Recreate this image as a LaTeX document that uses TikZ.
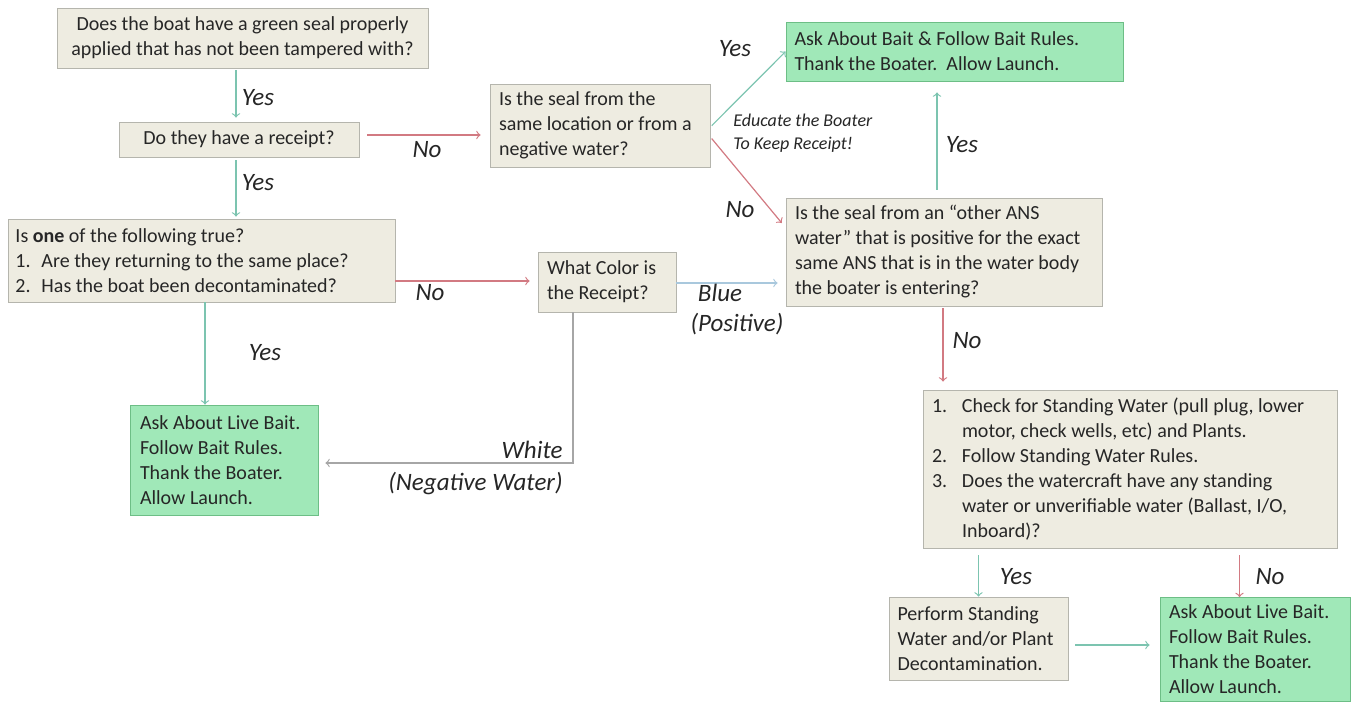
\documentclass[tikz,border=0pt]{standalone}
\usepackage{fontspec}
\setmainfont{Carlito}
\usepackage{xcolor}
\usetikzlibrary{arrows, positioning, shapes}

\definecolor{boxfill}{HTML}{EEECE1}
\definecolor{boxline}{HTML}{B5B5AD}
\definecolor{okfill}{HTML}{A0E8B8}
\definecolor{okline}{HTML}{6DBE86}
\definecolor{yescol}{HTML}{7CC4B0}
\definecolor{nocol}{HTML}{D27A82}
\definecolor{bluecol}{HTML}{A9C8DD}
\definecolor{txt}{HTML}{262626}

\tikzset{
  box/.style={draw=boxline, fill=boxfill, inner sep=0pt, text=txt,
    font=\fontsize{10}{12.5}\selectfont},
  okbox/.style={box, draw=okline, fill=okfill},
  yesarrow/.style={->, draw=yescol, line width=0.6pt},
  noarrow/.style={->, draw=nocol, line width=0.6pt},
  answer/.style={font=\fontsize{12.5}{15}\selectfont\itshape, text=txt, inner sep=0pt},
}

\begin{document}
\begin{tikzpicture}[x=0.5pt, y=-0.5pt, >=to]
    \useasboundingbox (0,0) rectangle (1351,702);

    % Noduri
    \node[box, minimum width=185.5pt, minimum height=30pt, align=center] (seal) at (242.5,38)
        {Does the boat have a green seal properly\\applied that has not been tampered with?};
    \node[box, minimum width=120pt, minimum height=17.5pt] (receipt) at (239,139.5) {Do they have a receipt?};
    \node[box, minimum width=193.5pt, minimum height=41.5pt] (one) at (201.5,260.5)
        {\parbox{186pt}{Is \textbf{one} of the following true?\\
         \makebox[13pt][l]{1.}Are they returning to the same place?\\
         \makebox[13pt][l]{2.}Has the boat been decontaminated?}};
    \node[okbox, minimum width=94pt, minimum height=55pt] (livebait) at (224,460)
        {\parbox{84pt}{Ask About Live Bait.\\Follow Bait Rules.\\Thank the Boater.\\Allow Launch.}};
    \node[box, minimum width=110pt, minimum height=41.5pt] (same) at (600,125.5)
        {\parbox{101pt}{Is the seal from the\\same location or from a\\negative water?}};
    \node[box, minimum width=69pt, minimum height=30pt] (color) at (607,282)
        {\parbox{60pt}{What Color is\\the Receipt?}};
    \node[okbox, minimum width=168.5pt, minimum height=29.5pt] (askbait) at (954.5,51.5)
        {\parbox{160pt}{Ask About Bait \& Follow Bait Rules.\\Thank the Boater.\ \ Allow Launch.}};
    \node[box, minimum width=158pt, minimum height=54pt] (ans) at (944,252)
        {\parbox{149pt}{Is the seal from an ``other ANS\\water'' that is positive for the exact\\same ANS that is in the water body\\the boater is entering?}};
    \node[box, minimum width=207pt, minimum height=79pt] (standing) at (1130,469)
        {\parbox{198pt}{\makebox[15pt][l]{1.}Check for Standing Water (pull plug, lower\\
         \hspace*{15pt}motor, check wells, etc) and Plants.\\
         \makebox[15pt][l]{2.}Follow Standing Water Rules.\\
         \makebox[15pt][l]{3.}Does the watercraft have any standing\\
         \hspace*{15pt}water or unverifiable water (Ballast, I/O,\\
         \hspace*{15pt}Inboard)?}};
    \node[box, minimum width=89.5pt, minimum height=41.5pt] (decon) at (978.5,638.5)
        {\parbox{81pt}{Perform Standing\\Water and/or Plant\\Decontamination.}};
    \node[okbox, minimum width=95pt, minimum height=52pt] (launch) at (1255,649.5)
        {\parbox{86pt}{Ask About Live Bait.\\Follow Bait Rules.\\Thank the Boater.\\Allow Launch.}};

    % Muchii
    \draw[yesarrow, shorten <=1pt, shorten >=2pt] ([xshift=-3.25pt]seal.south) -- ([xshift=-3.25pt]seal.south |- receipt.north);
    \draw[yesarrow, shorten <=1.5pt, shorten >=1pt] ([xshift=-1.5pt]receipt.south) -- ([xshift=-1.5pt]receipt.south |- one.north);
    \draw[noarrow, shorten <=4pt, shorten >=4.5pt] ([yshift=2.25pt]receipt.east) -- ([yshift=2.25pt]receipt.east -| same.west);
    \draw[yesarrow] ([xshift=1.75pt]one.south) -- ([xshift=1.75pt]one.south |- livebait.north);
    \draw[noarrow, shorten >=4pt] ([yshift=-10.25pt]one.east) -- ([yshift=-10.25pt]one.east -| color.west);
    \draw[->, draw=gray!70, line width=0.6pt, shorten >=3.5pt] ([xshift=-17pt]color.south) |- ([yshift=-1.5pt]livebait.east);
    \draw[->, draw=bluecol, line width=0.6pt, shorten >=4pt] ([yshift=-0.5pt]color.east) -- ([yshift=-0.5pt]color.east -| ans.west);
    \draw[yesarrow, shorten <=1pt] ([yshift=-0.75pt]same.east) -- (askbait.west);
    \draw[noarrow, shorten <=1pt, shorten >=3pt] ([yshift=-5.75pt]same.east) -- ([yshift=-15pt]ans.north west);
    \draw[yesarrow, shorten <=4pt, shorten >=5.5pt] ([xshift=-3.5pt]ans.north) -- ([xshift=-3.5pt]ans.north |- askbait.south);
    \draw[noarrow, shorten <=1pt, shorten >=4pt] ([xshift=-0.5pt]ans.south) -- ([xshift=-0.5pt]ans.south |- standing.north);
    \draw[yesarrow, shorten <=3.5pt] (decon.north |- standing.south) -- (decon.north);
    \draw[noarrow, shorten <=3.5pt] ([xshift=-7.75pt]launch.north |- standing.south) -- ([xshift=-7.75pt]launch.north);
    \draw[yesarrow, shorten <=3.5pt, shorten >=5pt] ([yshift=-3.25pt]decon.east) -- ([yshift=-3.25pt]decon.east -| launch.west);

    % Etichete
    \node[answer] (y1) at (258,98) {Yes};
    \node[answer] (y2) at (258,183) {Yes};
    \node[answer] (n1) at (427,150) {No};
    \node[answer] (y3) at (265,353) {Yes};
    \node[answer] (n2) at (430,293) {No};
    \node[answer, anchor=east] (white) at (563,450) {White};
    \node[answer, anchor=east] (neg) at (563,484) {(Negative Water)};
    \node[answer] (blue) at (720,293) {Blue};
    \node[answer] (pos) at (737,324) {(Positive)};
    \node[answer] (y4) at (735,49) {Yes};
    \node[answer] (n3) at (740,210) {No};
    \node[font=\fontsize{9}{11.5}\selectfont\itshape, text=txt, align=left, anchor=west, inner sep=0pt] (educ) at (733,133)
        {Educate the Boater\\To Keep Receipt!};
    \node[answer] (y5) at (962,145) {Yes};
    \node[answer] (n4) at (967,341) {No};
    \node[answer] (y6) at (1016,577) {Yes};
    \node[answer] (n5) at (1270,577) {No};
\end{tikzpicture}
\end{document}
